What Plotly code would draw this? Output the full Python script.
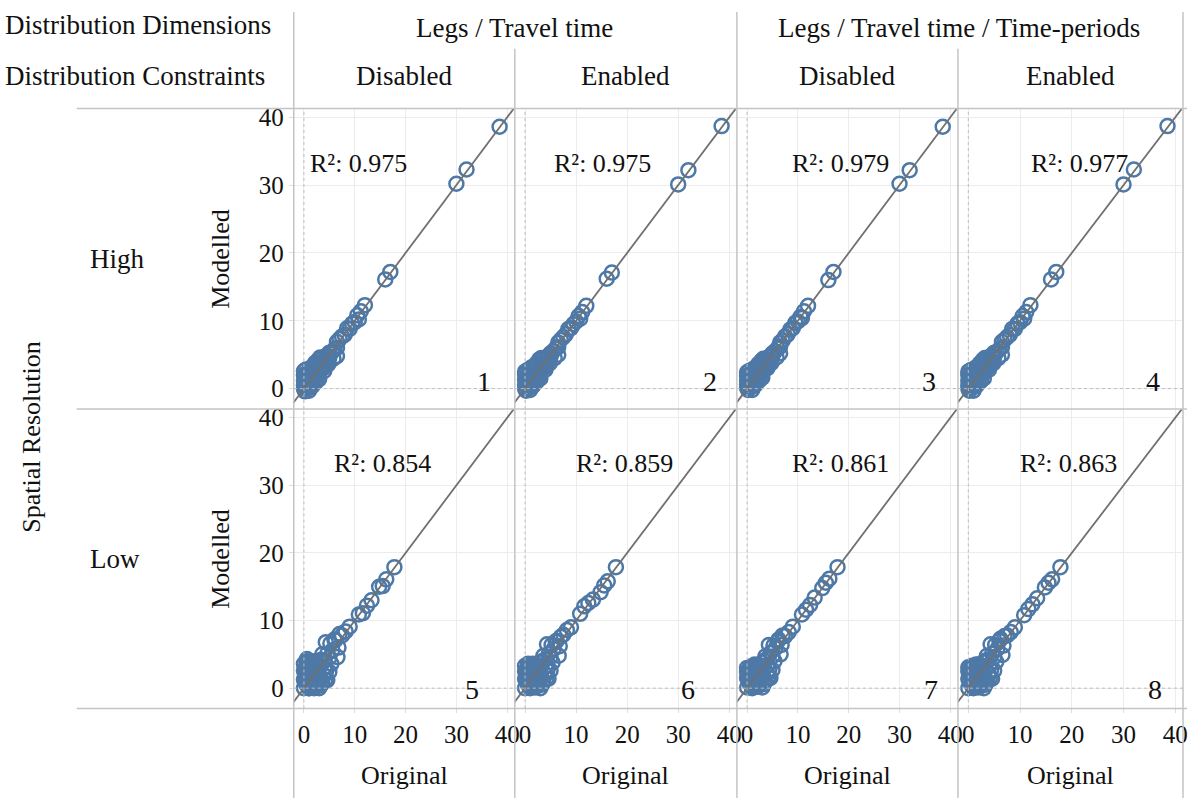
import plotly.graph_objects as go

W, H = 1192, 798

# ---------------- data ----------------
dimensions = ["Legs / Travel time", "Legs / Travel time / Time-periods"]
constraints = ["Disabled", "Enabled", "Disabled", "Enabled"]
resolutions = ["High", "Low"]
r2_values = [[0.975, 0.975, 0.979, 0.977], [0.854, 0.859, 0.861, 0.863]]
panel_numbers = [[1, 2, 3, 4], [5, 6, 7, 8]]
tick_vals = [0, 10, 20, 30, 40]

# label anchor positions (data units) for R2 text and panel number
r2_x = [[10.8, 15.1, 18.4, 21.5], [15.4, 19.4, 18.4, 19.4]]
r2_y = [33.2, 33.3]
num_x = [[35.5, 36.2, 35.8, 35.7], [33.0, 31.9, 36.2, 36.1]]
num_y = [-1.6, -2.8]

orig_high = [38.5, 32.0, 30.0, 17.0, 16.0, 12.0, 11.2, 10.5, 10.0, 9.5,
             9.0, 8.5, 8.0, 7.5, 7.0, 6.5, 6.5, 6.0, 5.5, 5.0,
             5.0, 4.5, 4.5, 4.0, 4.0, 3.5, 3.5, 3.0, 3.0, 3.0,
             2.5, 2.5, 2.0, 2.0, 2.0, 1.5, 1.5, 1.5, 1.0, 1.0,
             1.0, 0.5, 0.5, 0.5, 0.0, 0.0, 0.0, 0.0, 1.5, 2.5,
             6.5, 10.8, 4.0, 0.2, 1.0, 3.5,
             0.3, 0.8, 1.2, 1.8, 2.2, 2.8, 3.2, 3.8, 4.2, 0.6,
             1.4, 2.4, 0.0, 0.9, 1.7, 3.0, 4.8, 5.8, 2.0, 0.4]
mod_high_1 = [38.6, 32.3, 30.2, 17.2, 16.1, 12.3, 11.4, 10.8, 9.8, 9.6,
              8.8, 8.9, 7.9, 7.7, 7.3, 6.9, 6.0, 5.8, 5.4, 5.3,
              4.6, 4.9, 4.0, 4.4, 3.6, 3.9, 3.1, 3.6, 2.8, 2.2,
              3.0, 2.2, 2.6, 1.8, 1.2, 2.2, 1.4, 0.8, 1.8, 1.0,
              0.3, 1.5, 0.6, 0.0, 1.2, 0.5, 0.0, 2.0, 2.8, 1.2,
              4.8, 10.2, 2.6, -0.4, -0.3, 4.5,
              1.8, 2.5, 3.0, 3.3, 3.8, 4.2, 4.6, 3.0, 3.2, 0.9,
              0.2, 1.0, 2.6, 1.6, 0.4, 1.4, 3.6, 4.4, 3.4, 2.8]
mod_high_2 = [38.7, 32.2, 30.1, 17.1, 16.2, 12.2, 11.3, 10.7, 9.9, 9.5,
              8.9, 8.8, 8.0, 7.6, 7.2, 6.8, 6.1, 5.9, 5.5, 5.2,
              4.7, 4.8, 4.1, 4.3, 3.7, 3.8, 3.2, 3.5, 2.9, 2.3,
              2.9, 2.3, 2.5, 1.9, 1.3, 2.1, 1.5, 0.9, 1.7, 1.1,
              0.4, 1.4, 0.7, 0.1, 1.3, 0.6, 0.0, 2.1, 2.7, 1.3,
              5.0, 10.3, 2.8, -0.3, -0.2, 4.4,
              1.7, 2.4, 3.1, 3.2, 3.7, 4.3, 4.5, 3.1, 3.3, 0.8,
              0.3, 1.1, 2.5, 1.7, 0.5, 1.5, 3.7, 4.5, 3.3, 2.7]
mod_high_3 = [38.6, 32.2, 30.2, 17.2, 16.0, 12.2, 11.4, 10.6, 9.9, 9.7,
              8.9, 8.7, 8.0, 7.7, 7.1, 6.8, 6.2, 5.9, 5.5, 5.2,
              4.8, 4.8, 4.2, 4.3, 3.8, 3.8, 3.2, 3.4, 2.9, 2.4,
              2.8, 2.4, 2.4, 1.9, 1.4, 2.0, 1.5, 1.0, 1.6, 1.1,
              0.5, 1.3, 0.7, 0.2, 1.2, 0.6, 0.1, 1.9, 2.6, 1.4,
              5.2, 10.4, 3.0, -0.2, -0.2, 4.3,
              1.6, 2.3, 2.9, 3.1, 3.6, 4.1, 4.4, 3.2, 3.4, 0.9,
              0.4, 1.2, 2.4, 1.8, 0.6, 1.6, 3.8, 4.6, 3.2, 2.6]
mod_high_4 = [38.7, 32.3, 30.1, 17.2, 16.1, 12.3, 11.3, 10.7, 9.8, 9.6,
              8.8, 8.8, 7.9, 7.6, 7.2, 6.9, 6.1, 5.8, 5.4, 5.3,
              4.7, 4.9, 4.1, 4.4, 3.7, 3.9, 3.1, 3.5, 2.8, 2.3,
              2.9, 2.3, 2.5, 1.8, 1.3, 2.1, 1.4, 0.9, 1.7, 1.0,
              0.4, 1.4, 0.6, 0.1, 1.2, 0.5, 0.0, 2.0, 2.7, 1.3,
              5.0, 10.3, 2.8, -0.3, -0.3, 4.4,
              1.7, 2.4, 3.0, 3.2, 3.7, 4.2, 4.5, 3.1, 3.3, 0.9,
              0.3, 1.1, 2.5, 1.7, 0.5, 1.5, 3.7, 4.5, 3.3, 2.7]
mod_high = [mod_high_1, mod_high_2, mod_high_3, mod_high_4]

orig_low = [17.8, 16.2, 15.5, 14.8, 13.3, 11.6, 10.8, 9.0, 8.2, 7.5,
            7.0, 6.8, 6.2, 6.0, 5.6, 5.2, 5.0, 4.6, 4.3, 4.0,
            4.0, 3.6, 3.4, 3.0, 3.0, 3.0, 2.6, 2.5, 2.2, 2.0,
            2.0, 2.0, 1.6, 1.5, 1.4, 1.2, 1.0, 1.0, 1.0, 0.8,
            0.6, 0.5, 0.4, 0.2, 0.0, 0.0, 0.0, 0.0, 1.0, 2.0,
            3.0, 6.6, 5.4, 4.2, 0.5, 1.5, 2.8, 12.4, 0.3, 1.8,
            0.2, 0.5, 0.8, 1.2, 1.6, 2.0, 2.4, 2.8, 3.2, 3.6,
            4.0, 4.4, 0.3, 0.9, 1.3, 1.9, 2.5, 3.3, 4.6, 5.0]
mod_low_5 = [17.9, 16.1, 15.1, 15.0, 13.0, 11.1, 10.9, 9.1, 8.4, 7.8,
             8.0, 6.0, 7.1, 7.2, 5.6, 6.6, 4.5, 5.1, 6.8, 4.0,
             3.0, 5.0, 4.2, 3.1, 2.0, 4.0, 3.5, 1.5, 2.6, 2.1,
             3.3, 0.6, 1.9, 3.8, 0.8, 2.5, 1.1, 0.0, 3.0, 1.6,
             4.3, 0.5, 2.2, 1.0, 0.0, 1.3, 2.6, 3.6, 0.0, 0.0,
             0.0, 4.6, 3.6, 1.2, 4.0, 0.1, 1.0, 12.2, 2.8, 0.4,
             2.8, 3.4, 3.9, 3.5, 2.9, 4.0, 3.0, 2.4, 1.5, 0.8,
             1.9, 2.6, 1.8, 0.3, 2.1, 0.9, 0.5, 0.4, 1.2, 2.4]
mod_low_6 = [17.9, 15.8, 15.2, 14.2, 13.1, 12.1, 11.0, 9.0, 8.6, 7.9,
             7.6, 6.2, 7.0, 6.9, 5.8, 6.4, 4.6, 5.0, 6.5, 4.2,
             3.2, 4.8, 4.0, 3.2, 2.2, 3.9, 3.4, 1.6, 2.7, 2.2,
             3.2, 0.7, 2.0, 3.6, 0.9, 2.4, 1.2, 0.1, 2.8, 1.7,
             3.6, 0.6, 2.1, 1.1, 0.0, 1.4, 2.5, 3.3, 0.0, 0.1,
             0.0, 4.8, 3.8, 1.4, 3.2, 0.2, 1.1, 12.6, 2.7, 0.5,
             2.6, 3.0, 3.3, 3.1, 2.7, 3.5, 2.8, 2.2, 1.6, 0.9,
             2.0, 2.7, 1.9, 0.4, 2.2, 1.0, 0.6, 0.5, 1.4, 2.6]
mod_low_7 = [17.9, 16.2, 15.6, 14.8, 13.4, 11.6, 10.9, 9.1, 8.3, 7.7,
             7.8, 6.4, 7.2, 6.9, 5.9, 6.3, 4.7, 5.2, 6.4, 4.3,
             3.3, 4.7, 4.1, 3.3, 2.3, 3.8, 3.3, 1.7, 2.8, 2.3,
             3.1, 0.8, 2.1, 3.5, 1.0, 2.3, 1.3, 0.2, 2.7, 1.8,
             2.9, 0.7, 2.0, 1.2, 0.1, 1.5, 2.4, 3.0, 0.0, 0.2,
             0.1, 5.0, 4.0, 1.6, 2.9, 0.3, 1.2, 12.3, 2.6, 0.6,
             2.5, 2.9, 3.2, 3.0, 2.6, 3.4, 2.9, 2.3, 1.7, 1.0,
             2.1, 2.8, 2.0, 0.5, 2.3, 1.1, 0.7, 0.6, 1.5, 2.7]
mod_low_8 = [17.9, 16.1, 15.6, 14.9, 13.3, 11.7, 10.8, 9.0, 8.3, 7.8,
             7.7, 6.3, 7.3, 7.0, 5.8, 6.4, 4.6, 5.1, 6.5, 4.2,
             3.2, 4.8, 4.1, 3.2, 2.2, 3.9, 3.3, 1.6, 2.7, 2.2,
             3.2, 0.7, 2.0, 3.5, 0.9, 2.4, 1.2, 0.1, 2.8, 1.7,
             3.0, 0.6, 2.1, 1.1, 0.0, 1.4, 2.5, 3.1, 0.0, 0.1,
             0.0, 4.9, 3.9, 1.5, 3.0, 0.2, 1.1, 12.4, 2.7, 0.5,
             2.6, 3.0, 3.3, 3.1, 2.7, 3.5, 2.8, 2.2, 1.6, 0.9,
             2.0, 2.7, 1.9, 0.4, 2.2, 1.0, 0.6, 0.5, 1.4, 2.6]
mod_low = [mod_low_5, mod_low_6, mod_low_7, mod_low_8]

# ---------------- layout geometry (pixels) ----------------
col_edges = [(295, 517), (517, 740), (740, 962), (962, 1188)]
row_edges = [(105, 407), (407, 708)]
x_range = [-2.0, 41.5]
y_range = [-3.0, 41.3]

FONT = "Liberation Serif, Times New Roman, serif"
TXT = "#111111"
BLUE = "#4e79a7"
SEP = "#c4c4c4"


def px(x):
    return x / W


def py(y):
    return 1 - y / H


fig = go.Figure()
annotations = []
shapes = []

for r in range(2):
    orig = orig_high if r == 0 else orig_low
    mods = mod_high if r == 0 else mod_low
    for c in range(4):
        k = r * 4 + c + 1
        xa = "x" if k == 1 else f"x{k}"
        ya = "y" if k == 1 else f"y{k}"
        fig.add_trace(go.Scatter(
            x=orig, y=mods[c], mode="markers", xaxis=xa, yaxis=ya,
            marker=dict(symbol="circle-open", size=14, color=BLUE,
                        line=dict(width=2.5, color=BLUE)),
            showlegend=False, hoverinfo="x+y"))
        lo = min(x_range[0], y_range[0]) - 5
        hi = max(x_range[1], y_range[1]) + 5
        fig.add_trace(go.Scatter(
            x=[lo, hi], y=[lo, hi], mode="lines", xaxis=xa, yaxis=ya,
            line=dict(color="#707070", width=1.8),
            showlegend=False, hoverinfo="skip"))

        l, rr = col_edges[c]
        t, b = row_edges[r]
        xkey = "xaxis" if k == 1 else f"xaxis{k}"
        ykey = "yaxis" if k == 1 else f"yaxis{k}"
        fig.layout[xkey] = dict(
            domain=[px(l), px(rr)], range=x_range, anchor=ya,
            tickvals=tick_vals, showgrid=True, gridcolor="#ececec",
            gridwidth=1, zeroline=False, showline=False,
            showticklabels=(r == 1), ticks="outside" if r == 1 else "",
            ticklen=4, tickcolor="#dddddd",
            tickfont=dict(family=FONT, size=25, color=TXT))
        fig.layout[ykey] = dict(
            domain=[py(b), py(t)], range=y_range, anchor=xa,
            tickvals=tick_vals, showgrid=True, gridcolor="#ececec",
            gridwidth=1, zeroline=False, showline=False,
            showticklabels=(c == 0), ticks="outside" if c == 0 else "",
            ticklen=4, tickcolor="#dddddd",
            tickfont=dict(family=FONT, size=25, color=TXT))

        # dotted zero lines
        shapes.append(dict(type="line", xref=xa, yref=f"{ya} domain",
                           x0=0, x1=0, y0=0, y1=1,
                           line=dict(color="#bdbdbd", width=1, dash="dot")))
        shapes.append(dict(type="line", xref=f"{xa} domain", yref=ya,
                           x0=0, x1=1, y0=0, y1=0,
                           line=dict(color="#bdbdbd", width=1, dash="dot")))

        annotations.append(dict(
            x=r2_x[r][c], y=r2_y[r], xref=xa, yref=ya,
            text=f"R²: {r2_values[r][c]:.3f}", showarrow=False,
            font=dict(family=FONT, size=26, color=TXT)))
        annotations.append(dict(
            x=num_x[r][c], y=num_y[r], xref=xa, yref=ya, yanchor="bottom",
            text=str(panel_numbers[r][c]), showarrow=False,
            font=dict(family=FONT, size=28, color=TXT)))

# ---------------- separators ----------------
for x, y0 in [(295, 8), (517, 45), (740, 8), (962, 45), (1188, 8)]:
    shapes.append(dict(type="line", xref="paper", yref="paper",
                       x0=px(x), x1=px(x), y0=py(y0), y1=py(H),
                       line=dict(color=SEP, width=1.5)))
for y in [105, 407, 708]:
    shapes.append(dict(type="line", xref="paper", yref="paper",
                       x0=px(77), x1=px(W), y0=py(y), y1=py(y),
                       line=dict(color=SEP, width=1.5)))


# ---------------- header / labels ----------------
def ptext(text, x, y, size=26, xanchor="center", angle=0):
    annotations.append(dict(text=text, x=px(x), y=py(y), xref="paper",
                            yref="paper", showarrow=False, xanchor=xanchor,
                            yanchor="middle", textangle=angle,
                            font=dict(family=FONT, size=size, color=TXT)))


ptext("Distribution Dimensions", 3, 21, 27, "left")
ptext("Distribution Constraints", 3, 72, 27, "left")
ptext(dimensions[0], 517, 24, 27)
ptext(dimensions[1], 963, 24, 27)
for c in range(4):
    cx = (col_edges[c][0] + col_edges[c][1]) / 2
    ptext(constraints[c], cx, 72, 27)
    ptext("Original", cx, 775, 26)
ptext("Spatial Resolution", 32, 435, 26, angle=-90)
for r in range(2):
    cy = (row_edges[r][0] + row_edges[r][1]) / 2
    ptext(resolutions[r], 88, cy, 27, "left")
    ptext("Modelled", 222, cy, 26, angle=-90)

fig.update_layout(
    width=W, height=H, margin=dict(l=0, r=0, t=0, b=0),
    paper_bgcolor="white", plot_bgcolor="white",
    font=dict(family=FONT, color=TXT),
    shapes=shapes, annotations=annotations, showlegend=False)

fig.write_html("out.html", config={"displayModeBar": False},
               post_script="document.body.style.margin='0';"
                           "document.body.style.padding='0';")
